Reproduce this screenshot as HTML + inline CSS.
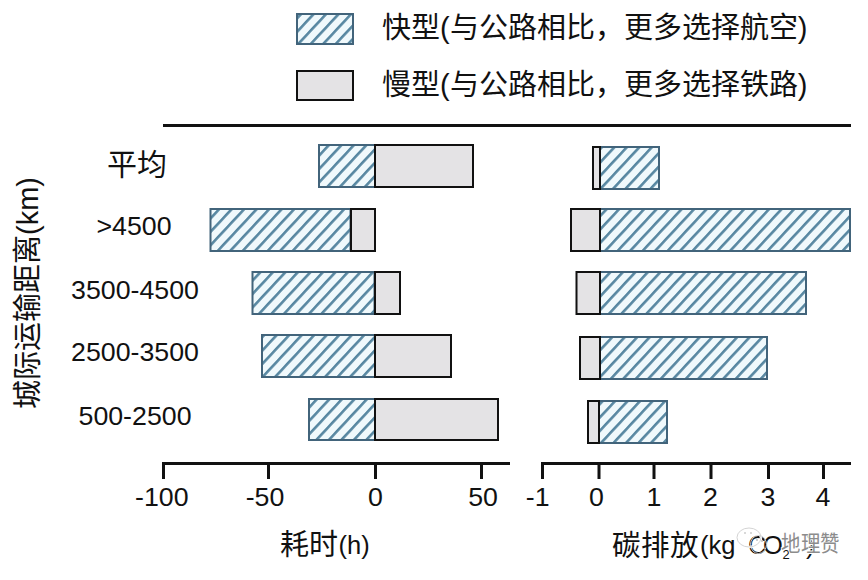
<!DOCTYPE html>
<html lang="zh-CN"><head><meta charset="utf-8">
<style>
html,body{margin:0;padding:0;background:#fff;}
body{width:868px;height:580px;overflow:hidden;position:relative;}
svg{position:absolute;left:0;top:0;}
text{font-family:"Liberation Sans",sans-serif;fill:#111;font-weight:500;}
</style></head><body>
<svg width="868" height="580" viewBox="0 0 868 580">
<defs>
<pattern id="h" patternUnits="userSpaceOnUse" width="20" height="9.14" patternTransform="rotate(-47)">
<rect width="20" height="9.14" fill="#f0f9fc"/>
<rect y="0" width="20" height="2.6" fill="#5787a1"/>
</pattern>
</defs>
<rect width="868" height="580" fill="#fff"/>

<!-- legend -->
<rect x="297" y="14" width="56" height="30" fill="url(#h)" stroke="#42647b" stroke-width="2"/>
<rect x="297" y="71" width="56" height="29" fill="#e4e3e5" stroke="#111" stroke-width="2"/>
<text transform="translate(382,38)" font-size="29">快型(与公路相比，更多选择航空)</text>
<text transform="translate(382,95.3)" font-size="29">慢型(与公路相比，更多选择铁路)</text>

<!-- top rule -->
<rect x="163" y="124" width="688" height="3" fill="#111"/>

<!-- y axis title -->
<text transform="translate(38,409) rotate(-90)" font-size="29">城际运输距离(km)</text>

<!-- category labels -->
<text x="136.5" y="174.5" font-size="30" text-anchor="middle">平均</text>
<text transform="translate(134,235) scale(1.07,1)" font-size="25" text-anchor="middle">&gt;4500</text>
<text transform="translate(135,299) scale(1.07,1)" font-size="25" text-anchor="middle">3500-4500</text>
<text transform="translate(135,361) scale(1.07,1)" font-size="25" text-anchor="middle">2500-3500</text>
<text transform="translate(135,425) scale(1.07,1)" font-size="25" text-anchor="middle">500-2500</text>

<!-- left panel bars -->
<g stroke-width="2">
<rect x="319" y="145" width="56" height="42" fill="url(#h)" stroke="#42647b"/>
<rect x="375" y="145" width="98" height="42" fill="#e4e3e5" stroke="#111"/>

<rect x="210.5" y="209" width="140" height="42" fill="url(#h)" stroke="#42647b"/>
<rect x="351" y="209" width="24" height="42" fill="#e4e3e5" stroke="#111"/>

<rect x="252.5" y="272" width="122" height="42" fill="url(#h)" stroke="#42647b"/>
<rect x="375" y="272" width="25" height="42" fill="#e4e3e5" stroke="#111"/>

<rect x="262" y="335" width="113" height="42" fill="url(#h)" stroke="#42647b"/>
<rect x="375" y="335" width="76" height="42" fill="#e4e3e5" stroke="#111"/>

<rect x="309" y="399" width="66" height="41" fill="url(#h)" stroke="#42647b"/>
<rect x="375" y="399" width="123" height="41" fill="#e4e3e5" stroke="#111"/>
</g>

<!-- right panel bars -->
<g stroke-width="2">
<rect x="600" y="147" width="59" height="42" fill="url(#h)" stroke="#42647b"/>
<rect x="593" y="147" width="7" height="42" fill="#e4e3e5" stroke="#111"/>

<rect x="600" y="209" width="250" height="42" fill="url(#h)" stroke="#42647b"/>
<rect x="571" y="209" width="29" height="42" fill="#e4e3e5" stroke="#111"/>

<rect x="600" y="272" width="206" height="42" fill="url(#h)" stroke="#42647b"/>
<rect x="576.5" y="272" width="23.5" height="42" fill="#e4e3e5" stroke="#111"/>

<rect x="600" y="337" width="167" height="42" fill="url(#h)" stroke="#42647b"/>
<rect x="580" y="337" width="20" height="42" fill="#e4e3e5" stroke="#111"/>

<rect x="599" y="401" width="68" height="42" fill="url(#h)" stroke="#42647b"/>
<rect x="588" y="401" width="11" height="42" fill="#e4e3e5" stroke="#111"/>
</g>

<!-- bottom axes -->
<g fill="#111">
<rect x="162" y="462" width="348" height="3"/>
<rect x="162" y="462" width="3" height="17"/>
<rect x="267" y="462" width="3" height="17"/>
<rect x="374" y="462" width="3" height="17"/>
<rect x="480" y="462" width="3" height="17"/>

<rect x="541" y="462" width="310" height="3"/>
<rect x="541" y="462" width="3" height="17"/>
<rect x="597.5" y="462" width="3" height="17"/>
<rect x="652.5" y="462" width="3" height="17"/>
<rect x="709.5" y="462" width="3" height="17"/>
<rect x="767" y="462" width="3" height="17"/>
<rect x="822" y="462" width="3" height="17"/>
</g>

<g font-size="25">
<text transform="translate(161.85,506) scale(1.07,1)" text-anchor="middle">-100</text>
<text transform="translate(264.95,506) scale(1.07,1)" text-anchor="middle">-50</text>
<text transform="translate(375.55,506) scale(1.07,1)" text-anchor="middle">0</text>
<text transform="translate(483,506) scale(1.07,1)" text-anchor="middle">50</text>
<text transform="translate(537.65,506) scale(1.07,1)" text-anchor="middle">-1</text>
<text transform="translate(596.35,506) scale(1.07,1)" text-anchor="middle">0</text>
<text transform="translate(653.85,506) scale(1.07,1)" text-anchor="middle">1</text>
<text transform="translate(710.55,506) scale(1.07,1)" text-anchor="middle">2</text>
<text transform="translate(767.85,506) scale(1.07,1)" text-anchor="middle">3</text>
<text transform="translate(822.85,506) scale(1.07,1)" text-anchor="middle">4</text>
</g>

<!-- axis titles -->
<text x="280" y="555" font-size="29">耗时</text>
<text x="338.5" y="553.5" font-size="25.5">(h)</text>
<text transform="translate(612,556) scale(0.985,1)" font-size="29">碳排放</text>
<text x="700" y="553.5" font-size="25.5">(kg</text>
<text x="748" y="553.5" font-size="25.5">C</text>
<text x="763" y="553.5" font-size="25.5">O</text>
<text x="782.5" y="559" font-size="13">2</text>
<text x="806" y="553.5" font-size="25.5">)</text>

<!-- watermark -->
<g fill="none" stroke-width="1">
<ellipse cx="749" cy="537.5" rx="12" ry="9.5" stroke="#fff" stroke-width="2.5"/>
<ellipse cx="749" cy="537.5" rx="12" ry="9.5" stroke="#d4d4d4"/>
<ellipse cx="758.5" cy="544.5" rx="8" ry="9" stroke="#d0d0d0"/>
<circle cx="757" cy="540" r="0.9" fill="#bbb" stroke="none"/>
<circle cx="762" cy="541" r="0.9" fill="#bbb" stroke="none"/>
<circle cx="745" cy="533" r="1" fill="#ccc" stroke="none"/>
<circle cx="751" cy="533" r="1" fill="#ccc" stroke="none"/>
</g>
<text transform="translate(781,551) scale(0.97,1.1)" font-size="20" style="fill:#8c8c8c;stroke:#fff;stroke-width:1.6px;paint-order:stroke;">地理赞</text>
</svg>
</body></html>
